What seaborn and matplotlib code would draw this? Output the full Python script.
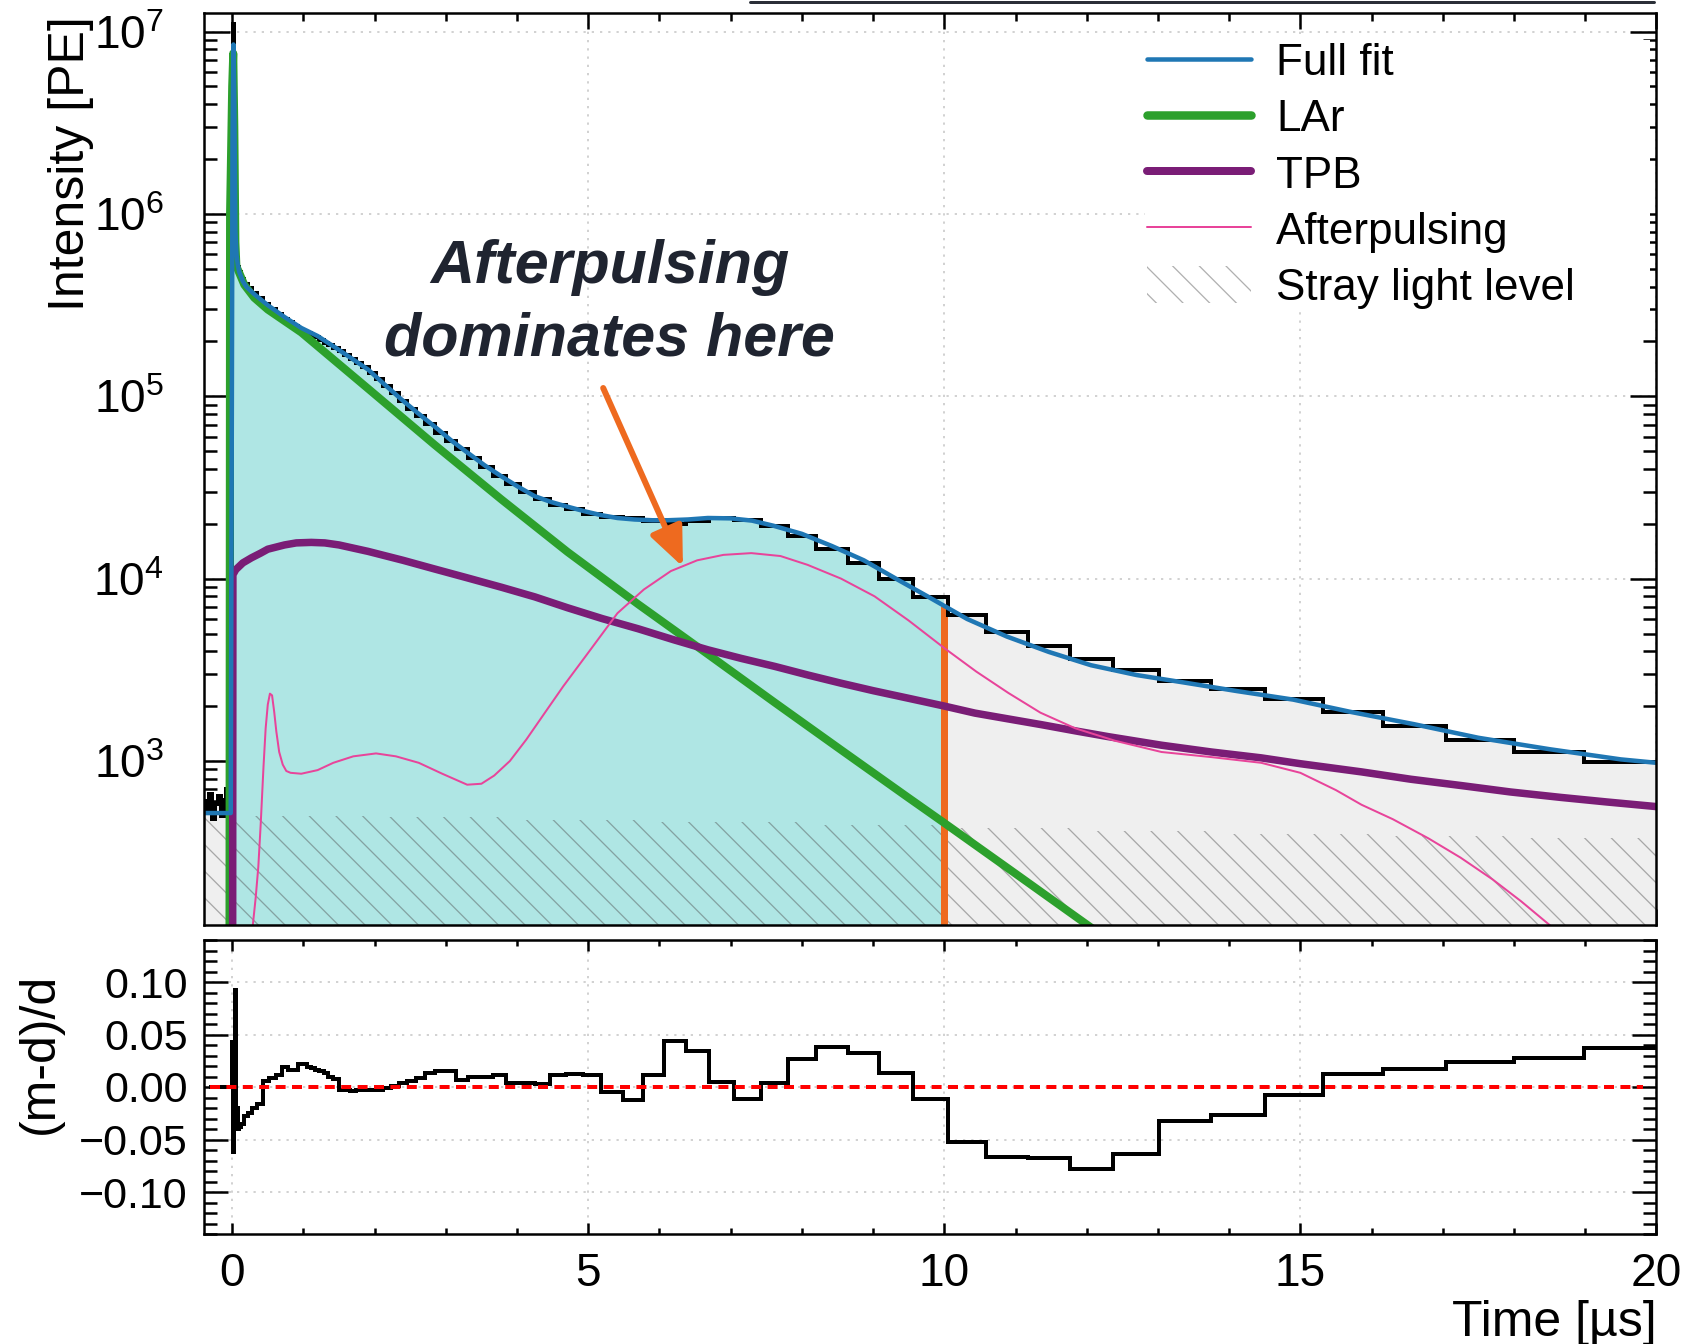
import numpy as np
import pandas as pd
import matplotlib
matplotlib.use("Agg")
import matplotlib.pyplot as plt
from matplotlib.lines import Line2D
from matplotlib.patches import Patch
from matplotlib.ticker import (FixedLocator, LogLocator, NullFormatter,
                               FuncFormatter, MultipleLocator)
import seaborn as sns

# ---------------------------------------------------------------- data
# Recorded waveform histogram: bin edges [us] and summed intensity [PE]
bin_edges = [-0.40, -0.36, -0.32, -0.28, -0.24, -0.20, -0.16, -0.12, -0.08, -0.04,
             0.00, 0.01, 0.02, 0.04, 0.06, 0.08, 0.10, 0.13, 0.17, 0.22, 0.28, 0.35,
             0.43, 0.52, 0.61, 0.70, 0.78, 0.86, 0.93,
             1.000, 1.055, 1.108, 1.165, 1.224, 1.287, 1.352, 1.421, 1.494, 1.570,
             1.650, 1.734, 1.823, 1.916, 2.013, 2.116, 2.224, 2.337, 2.457, 2.582,
             2.714, 2.852, 2.997, 3.150, 3.311, 3.480, 3.657, 3.844, 4.040, 4.246,
             4.462, 4.690, 4.929, 5.180, 5.487, 5.768, 6.070, 6.376, 6.690, 7.040,
             7.430, 7.800, 8.200, 8.650, 9.090, 9.560, 10.050, 10.590, 11.180, 11.760,
             12.370, 13.020, 13.750, 14.500, 15.320, 16.160, 17.050, 18.000, 18.990, 20.000]

data_pe = [600, 520, 660, 480, 580, 640, 500, 610, 700, 560,
           3.0e6, 1.1e7, 5.6e6, 9.0e5, 5.75e5, 5.1e5, 4.8e5, 4.42e5, 4.12e5, 3.92e5,
           3.70e5, 3.48e5, 3.20e5, 3.01e5, 2.83e5, 2.67e5, 2.55e5, 2.44e5, 2.32e5,
           2.25e5, 2.21e5, 2.15e5, 2.11e5, 2.04e5, 1.97e5, 1.91e5, 1.83e5, 1.77e5, 1.69e5,
           1.61e5, 1.52e5, 1.44e5, 1.34e5, 1.24e5, 1.135e5, 1.04e5, 9.42e4, 8.57e4, 7.78e4,
           7.03e4, 6.32e4, 5.66e4, 5.13e4, 4.58e4, 4.07e4, 3.66e4, 3.31e4, 2.98e4, 2.73e4,
           2.54e4, 2.40e4, 2.26e4, 2.19e4, 2.14e4, 2.07e4, 2.00e4, 2.06e4, 2.15e4, 2.09e4,
           1.94e4, 1.71e4, 1.46e4, 1.22e4, 9.9e3, 7.9e3, 6.3e3, 5.1e3, 4.25e3, 3.62e3,
           3.16e3, 2.76e3, 2.48e3, 2.18e3, 1.85e3, 1.56e3, 1.30e3, 1.12e3, 984]

# Relative residual (model - data) / data per bin
residual = [np.nan, np.nan, 0, 0, 0, 0, 0, 0, 0, 0,
            0.043, -0.062, 0.020, 0.092, -0.020, -0.040, -0.038, -0.035, -0.028, -0.025,
            -0.020, -0.016, 0.006, 0.009, 0.011, 0.019, 0.016, 0.016, 0.022,
            0.022, 0.019, 0.018, 0.016, 0.015, 0.013, 0.010, 0.008, -0.003, -0.003,
            -0.004, -0.003, -0.003, -0.003, -0.003, -0.001, 0.001, 0.004, 0.006, 0.009,
            0.013, 0.015, 0.015, 0.007, 0.010, 0.010, 0.011, 0.004, 0.004, 0.003,
            0.011, 0.012, 0.011, -0.005, -0.012, 0.011, 0.044, 0.034, 0.005, -0.011,
            0.004, 0.027, 0.038, 0.032, 0.013, -0.011, -0.052, -0.067, -0.068, -0.078,
            -0.064, -0.032, -0.027, -0.008, 0.012, 0.0175, 0.024, 0.028, 0.037]

# Full fit model
fit_t = [-0.40, -0.02, 0.005, 0.018, 0.03, 0.045, 0.06, 0.08, 0.10, 0.15, 0.20, 0.31,
         0.50, 0.735, 0.97, 1.20, 1.44, 1.67, 1.91, 2.14, 2.37, 2.60, 2.84, 3.07, 3.31,
         3.55, 3.78, 4.01, 4.25, 4.48, 4.71, 4.95, 5.18, 5.41, 5.65, 5.90, 6.12, 6.40,
         6.68, 7.00, 7.30, 7.60, 8.00, 8.42, 8.87, 9.32, 9.80, 10.32, 10.88, 11.47,
         12.06, 12.70, 13.40, 14.10, 14.90, 15.70, 16.60, 17.50, 18.50, 19.50, 20.00]
fit_pe = [518, 518, 2.5e6, 8.5e6, 4.0e6, 8.0e5, 6.0e5, 5.2e5, 4.8e5, 4.27e5, 3.98e5, 3.63e5,
          3.16e5, 2.72e5, 2.37e5, 2.14e5, 1.86e5, 1.62e5, 1.40e5, 1.16e5, 9.66e4, 8.13e4,
          6.84e4, 5.75e4, 4.89e4, 4.17e4, 3.64e4, 3.20e4, 2.83e4, 2.63e4, 2.48e4, 2.34e4,
          2.23e4, 2.15e4, 2.11e4, 2.09e4, 2.09e4, 2.11e4, 2.15e4, 2.14e4, 2.08e4, 1.95e4,
          1.76e4, 1.51e4, 1.26e4, 1.0e4, 7.85e3, 6.01e3, 4.81e3, 3.96e3, 3.35e3, 2.96e3,
          2.68e3, 2.42e3, 2.17e3, 1.86e3, 1.59e3, 1.34e3, 1.16e3, 1.02e3, 977]

# Liquid argon scintillation component
lar_t = [-0.04, -0.03, 0.0, 0.015, 0.03, 0.045, 0.06, 0.08, 0.17, 0.31, 0.50, 0.97,
         1.91, 2.84, 3.78, 4.71, 5.70, 6.68, 7.62, 8.55, 9.49, 10.00, 10.90, 12.10]
lar_pe = [10, 1.0e6, 5.0e6, 7.6e6, 3.0e6, 7.0e5, 5.1e5, 4.95e5, 4.09e5, 3.47e5, 2.99e5,
          2.24e5, 1.10e5, 5.43e4, 2.72e4, 1.40e4, 7.24e3, 3.85e3, 2.09e3, 1.15e3, 631,
          457, 257, 119]

# TPB wavelength-shifter delayed emission
tpb_t = [0.005, 0.01, 0.05, 0.15, 0.27, 0.40, 0.50, 0.735, 0.90, 1.11, 1.30, 1.50, 1.91,
         2.40, 2.84, 3.30, 3.78, 4.25, 4.71, 5.20, 5.70, 6.20, 6.68, 7.15, 7.62, 8.10,
         8.55, 9.00, 9.49, 10.00, 10.43, 10.90, 11.37, 11.85, 12.30, 13.05, 13.75, 14.45,
         15.00, 15.86, 16.55, 17.26, 17.95, 18.66, 19.30, 20.00]
tpb_pe = [10, 1.05e4, 1.12e4, 1.22e4, 1.30e4, 1.38e4, 1.45e4, 1.53e4, 1.57e4, 1.58e4,
          1.57e4, 1.53e4, 1.41e4, 1.26e4, 1.13e4, 1.01e4, 8.97e3, 7.94e3, 6.92e3, 6.03e3,
          5.31e3, 4.62e3, 4.07e3, 3.65e3, 3.30e3, 2.95e3, 2.67e3, 2.43e3, 2.21e3, 2.0e3,
          1.83e3, 1.70e3, 1.58e3, 1.46e3, 1.36e3, 1.22e3, 1.12e3, 1.04e3, 966, 871, 794,
          733, 676, 631, 596, 562]

# PMT afterpulsing component
ap_t = [0.25, 0.29, 0.33, 0.367, 0.40, 0.44, 0.47, 0.50, 0.53, 0.56, 0.59, 0.62, 0.66,
        0.71, 0.76, 0.82, 0.97, 1.20, 1.42, 1.70, 2.02, 2.30, 2.62, 2.95, 3.30, 3.50,
        3.68, 3.90, 4.13, 4.40, 4.65, 5.03, 5.41, 5.78, 6.16, 6.53, 6.90, 7.29, 7.70,
        8.08, 8.55, 9.02, 9.50, 10.00, 10.45, 10.90, 11.35, 11.84, 12.40, 13.05, 13.75,
        14.45, 15.00, 15.50, 15.86, 16.30, 16.80, 17.25, 17.70, 18.10, 18.50, 18.80]
ap_pe = [63, 126, 178, 263, 447, 933, 1.51e3, 2.04e3, 2.34e3, 2.29e3, 1.86e3, 1.45e3,
         1.12e3, 955, 881, 861, 851, 891, 977, 1.06e3, 1.10e3, 1.06e3, 977, 851, 741,
         750, 832, 1.0e3, 1.31e3, 1.86e3, 2.57e3, 4.07e3, 6.46e3, 8.71e3, 1.10e4, 1.26e4,
         1.35e4, 1.38e4, 1.33e4, 1.19e4, 1.0e4, 8.0e3, 5.89e3, 4.16e3, 3.09e3, 2.36e3,
         1.84e3, 1.51e3, 1.29e3, 1.12e3, 1.05e3, 977, 861, 692, 575, 479, 376, 295, 224,
         170, 126, 100]

# Stray light level
stray_edges = [-0.4, 0, 2, 4, 6, 8, 10, 12, 14, 16, 18, 20]
stray_pe = [505, 500, 490, 475, 460, 445, 428, 412, 400, 390, 380]

# End of the integration window and the fit value there
window_t = 10.0
window_top = 7.1e3

# Annotation arrow (tail, head) in data coordinates
arrow_tail = (5.21, 1.11e5)
arrow_head = (6.33, 1.16e4)
note_pos = (5.30, 3.22e5)

# ---------------------------------------------------------------- style
DPI = 80
PX = 72.0 / DPI  # points per output pixel

BLUE = "#1f77b4"
GREEN = "#2ca02c"
PURPLE = "#7a1d76"
PINK = "#e8449a"
ORANGE = "#ee6a1f"
CYAN = "#afe6e4"
GREY = "#efefef"
HATCH = "#4d4d4d70"
GRID = "#c4c4c4"

sns.set_theme(style="ticks")
plt.rcParams["font.family"] = ["Liberation Sans", "DejaVu Sans"]
plt.rcParams["mathtext.fontset"] = "custom"
plt.rcParams["mathtext.rm"] = "Liberation Sans"
plt.rcParams["mathtext.it"] = "Liberation Sans:italic"
plt.rcParams["mathtext.bf"] = "Liberation Sans:bold"
plt.rcParams["hatch.color"] = HATCH
plt.rcParams["hatch.linewidth"] = 1.3 * PX
for key in ["axes.edgecolor", "xtick.color", "ytick.color", "text.color",
            "axes.labelcolor"]:
    plt.rcParams[key] = "black"

fig = plt.figure(figsize=(1681 / DPI, 1344 / DPI), dpi=DPI)
fig.patch.set_facecolor("white")
L, R = 203.7 / 1681, 1656.4 / 1681
ax = fig.add_axes([L, 1 - 925 / 1344, R - L, (925 - 13.3) / 1344])
axr = fig.add_axes([L, 1 - 1234 / 1344, R - L, (1234 - 940) / 1344], sharex=ax)

edges = np.asarray(bin_edges)
counts = np.asarray(data_pe, dtype=float)


def region_steps(lo, hi):
    """Step outline of the histogram restricted to [lo, hi]."""
    left, right = edges[:-1], edges[1:]
    keep = (right > lo) & (left < hi)
    xl = np.clip(left[keep], lo, hi)
    xr = np.clip(right[keep], lo, hi)
    x = np.append(xl, xr[-1])
    y = np.append(counts[keep], counts[keep][-1])
    return x, y


# ---------------------------------------------------------------- top panel
ax.set_yscale("log")
ax.set_xlim(-0.4, 20)
ax.set_ylim(1.26e2, 1.26e7)

for lo, hi, col in [(-0.4, 0.0, GREY), (0.0, window_t, CYAN), (window_t, 20.0, GREY)]:
    x, y = region_steps(lo, hi)
    ax.fill_between(x, 1.0, y, step="post", color=col, lw=0, zorder=1)

sx = np.asarray(stray_edges)
sy = np.append(stray_pe, stray_pe[-1])
ax.fill_between(sx, 1.0, sy, step="post", facecolor="none", edgecolor=HATCH,
                hatch="\\", lw=0, zorder=1.2)

ax.grid(True, which="major", color=GRID, lw=1.5 * PX, ls=(0, (1.5, 4.0)))

ax.vlines(window_t, 1.0, window_top, color=ORANGE, lw=7 * PX, zorder=1.8)

ax.stairs(counts, edges, baseline=None, color="black", lw=4 * PX, zorder=2.2)

curves = [
    (lar_t, lar_pe, GREEN, 8.0, 2.3),
    (tpb_t, tpb_pe, PURPLE, 7.5, 2.35),
    (ap_t, ap_pe, PINK, 2.0, 2.4),
    (fit_t, fit_pe, BLUE, 4.5, 2.5),
]
for t, v, col, lw, z in curves:
    df = pd.DataFrame({"t": t, "pe": v})
    sns.lineplot(data=df, x="t", y="pe", ax=ax, color=col, lw=lw * PX,
                 estimator=None, sort=False, zorder=z, legend=False)

ax.annotate("", xy=arrow_head, xytext=arrow_tail,
            arrowprops=dict(arrowstyle="-|>,head_length=0.75,head_width=0.32",
                            mutation_scale=40, color=ORANGE, lw=6 * PX,
                            shrinkA=0, shrinkB=0),
            zorder=6)
ax.text(*note_pos, "Afterpulsing\ndominates here", ha="center", va="center",
        fontsize=61 * PX, fontweight="bold", fontstyle="italic", color="#1f2430",
        linespacing=1.37, zorder=6)

handles = [
    Line2D([], [], color=BLUE, lw=4.5 * PX),
    Line2D([], [], color=GREEN, lw=8.5 * PX),
    Line2D([], [], color=PURPLE, lw=8.0 * PX),
    Line2D([], [], color=PINK, lw=2.0 * PX),
    Patch(facecolor="white", edgecolor=HATCH, hatch="\\", lw=0),
]
labels = ["Full fit", "LAr", "TPB", "Afterpulsing", "Stray light level"]
leg = ax.legend(handles, labels, loc="upper left",
                bbox_to_anchor=(0.6478, 0.9710, 0.3478, 0.0), mode="expand",
                borderpad=0.05, borderaxespad=0, labelspacing=0.31,
                handlelength=2.36, handleheight=0.9, handletextpad=0.57,
                fontsize=44 * PX, frameon=True, fancybox=False, framealpha=1,
                edgecolor="none", facecolor="white")
leg.set_zorder(7)

ax.set_xlabel("")
ax.set_ylabel("Intensity [PE]", fontsize=50 * PX, loc="top")
ax.yaxis.set_label_coords(-0.0758, 0.997)

ax.xaxis.set_major_locator(MultipleLocator(5))
ax.xaxis.set_minor_locator(MultipleLocator(1))
ax.yaxis.set_major_locator(LogLocator(base=10, numticks=20))
ax.yaxis.set_minor_locator(LogLocator(base=10, subs=np.arange(2, 10), numticks=100))
ax.yaxis.set_minor_formatter(NullFormatter())
ax.tick_params(which="both", direction="in", top=True, right=True,
               labelbottom=False, width=2.5 * PX)
ax.tick_params(axis="x", which="major", length=16 * PX)
ax.tick_params(axis="x", which="minor", length=8 * PX)
ax.tick_params(axis="y", which="major", length=26 * PX, pad=40 * PX,
               labelsize=46 * PX)
ax.tick_params(axis="y", which="minor", length=13 * PX)

# ---------------------------------------------------------------- residual panel
axr.set_ylim(-0.14, 0.14)
axr.grid(True, which="major", color=GRID, lw=1.5 * PX, ls=(0, (1.5, 4.0)))
axr.stairs(np.asarray(residual, dtype=float), edges, baseline=None, color="black",
           lw=4 * PX, zorder=2)
axr.axhline(0.0, xmin=0.0043, xmax=0.9906, color="#ff0000", lw=4 * PX,
            ls=(0, (2.5, 1.6)), zorder=3)

axr.yaxis.set_major_locator(FixedLocator([-0.10, -0.05, 0.0, 0.05, 0.10]))
axr.yaxis.set_minor_locator(MultipleLocator(0.01))


def resid_fmt(v, _pos):
    if abs(v) < 1e-9:
        v = 0.0
    return f"{v:.2f}".replace("-", "\u2212")


axr.yaxis.set_major_formatter(FuncFormatter(resid_fmt))
axr.tick_params(which="both", direction="in", top=True, right=True, width=2.5 * PX)
axr.tick_params(axis="x", which="major", length=11 * PX, pad=17.5 * PX,
                labelsize=46 * PX)
axr.tick_params(axis="x", which="minor", length=6 * PX)
axr.tick_params(axis="y", which="major", length=24 * PX, pad=16 * PX,
                labelsize=43 * PX)
axr.tick_params(axis="y", which="minor", length=13 * PX)

axr.set_ylabel("(m-d)/d", fontsize=50 * PX)
axr.yaxis.set_label_coords(-0.0969, 0.616)
axr.set_xlabel("Time [\u00b5s]", fontsize=50 * PX, loc="right")
axr.xaxis.set_label_coords(1.0, -0.223)

for a in (ax, axr):
    for sp in a.spines.values():
        sp.set_linewidth(2.5 * PX)
        sp.set_color("black")
        sp.set_visible(True)

# rule of the page header above the figure
fig.add_artist(Line2D([750 / 1681, 1654 / 1681], [1 - 1.5 / 1344] * 2,
                      transform=fig.transFigure, color="#2b2f38", lw=3 * PX))

fig.savefig("out.png", dpi=DPI, facecolor="white")
